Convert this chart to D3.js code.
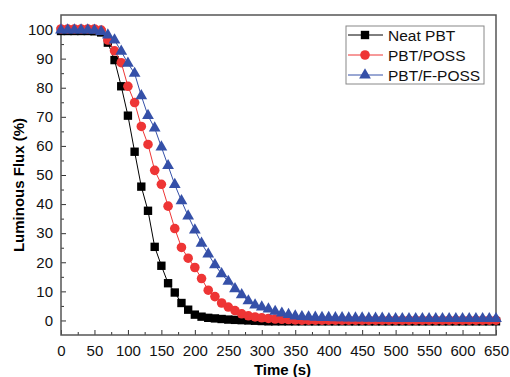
<!DOCTYPE html>
<html>
<head>
<meta charset="utf-8">
<script src="https://cdn.jsdelivr.net/npm/d3@7"></script>
<style>
  body { margin: 0; background: #fff; }
  svg { font-family: Arial, "Liberation Sans", sans-serif; }
</style>
</head>
<body>
<svg id="chart" width="510" height="377"></svg>
<script>
// time axis (s), one reading every 10 s
const times = [
  0, 10, 20, 30, 40, 50, 60, 70, 80, 90,
  100, 110, 120, 130, 140, 150, 160, 170, 180, 190,
  200, 210, 220, 230, 240, 250, 260, 270, 280, 290,
  300, 310, 320, 330, 340, 350, 360, 370, 380, 390,
  400, 410, 420, 430, 440, 450, 460, 470, 480, 490,
  500, 510, 520, 530, 540, 550, 560, 570, 580, 590,
  600, 610, 620, 630, 640, 650
];

const neatPBT = [
  99.5, 99.5, 99.5, 99.5, 99.5, 99.4, 99.0, 95.5, 89.5, 80.5,
  70.4, 58.0, 46.0, 37.7, 25.3, 18.8, 12.8, 9.6, 6.0, 3.7,
  2.0, 1.3, 0.9, 0.7, 0.5, 0.3, 0.2, 0.1, 0.0, -0.1,
  -0.2, -0.3, -0.3, -0.3, -0.3, -0.3, -0.3, -0.3, -0.3, -0.3,
  -0.3, -0.3, -0.3, -0.3, -0.3, -0.3, -0.3, -0.3, -0.3, -0.3,
  -0.3, -0.3, -0.3, -0.3, -0.3, -0.3, -0.3, -0.3, -0.3, -0.3,
  -0.3, -0.3, -0.3, -0.3, -0.3, -0.3
];

const pbtPOSS = [
  100.2, 100.2, 100.2, 100.2, 100.2, 100.2, 99.8, 96.4, 92.7, 88.6,
  80.5, 74.9, 66.7, 60.5, 51.6, 46.8, 39.3, 31.6, 25.1, 21.4,
  18.2, 14.4, 10.4, 8.2, 6.0, 4.6, 3.4, 2.3, 1.6, 1.2,
  0.9, 0.7, 0.5, 0.4, 0.3, 0.2, 0.1, 0.1, 0.1, 0.1,
  0.1, 0.1, 0.1, 0.1, 0.1, 0.1, 0.1, 0.1, 0.1, 0.1,
  0.1, 0.1, 0.1, 0.1, 0.1, 0.1, 0.1, 0.1, 0.1, 0.1,
  0.1, 0.1, 0.1, 0.1, 0.1, 0.1
];

const pbtFPOSS = [
  99.8, 99.8, 99.8, 99.8, 99.8, 99.7, 99.3, 98.1, 96.4, 92.5,
  88.4, 84.9, 77.2, 70.4, 66.1, 59.6, 53.2, 46.7, 41.1, 35.9,
  31.1, 26.5, 22.8, 19.1, 16.0, 13.4, 10.9, 8.8, 6.7, 5.3,
  4.6, 3.9, 3.1, 2.5, 2.0, 1.5, 1.3, 1.2, 1.1, 1.0,
  1.0, 0.9, 0.9, 0.8, 0.8, 0.8, 0.7, 0.7, 0.7, 0.6,
  0.6, 0.6, 0.6, 0.6, 0.6, 0.6, 0.6, 0.6, 0.6, 0.6,
  0.6, 0.6, 0.6, 0.6, 0.6, 0.6
];

const xTicks = [0, 50, 100, 150, 200, 250, 300, 350, 400, 450, 500, 550, 600, 650];
const yTicks = [0, 10, 20, 30, 40, 50, 60, 70, 80, 90, 100];

const series = [
  { name: 'Neat PBT', values: neatPBT, color: '#000000', symbol: d3.symbolSquare, size: 70 },
  { name: 'PBT/POSS', values: pbtPOSS, color: '#ee3535', symbol: d3.symbolCircle, size: 72 },
  { name: 'PBT/F-POSS', values: pbtFPOSS, color: '#3550a8', symbol: d3.symbolTriangle, size: 60 }
];

const margin = { top: 15, right: 14, bottom: 42, left: 61 };
const width = 510 - margin.left - margin.right;
const height = 377 - margin.top - margin.bottom;

const svg = d3.select('#chart');
const g = svg.append('g')
  .attr('transform', `translate(${margin.left},${margin.top})`);

const x = d3.scaleLinear().domain([0, 650]).range([0, width]);
const y = d3.scaleLinear().domain([-5, 105]).range([height, 0]);

// minor ticks (inward, no labels)
g.append('g')
  .attr('transform', `translate(0,${height})`)
  .call(d3.axisBottom(x).tickValues(d3.range(25, 650, 50)).tickSize(-3).tickFormat(''))
  .call(a => a.select('.domain').remove());
g.append('g')
  .call(d3.axisLeft(y).tickValues(d3.range(5, 100, 10)).tickSize(-3).tickFormat(''))
  .call(a => a.select('.domain').remove());

// major ticks
const xAxis = g.append('g')
  .attr('class', 'axis axis--x')
  .attr('transform', `translate(0,${height})`)
  .call(d3.axisBottom(x).tickValues(xTicks).tickSizeInner(-5).tickSizeOuter(0).tickPadding(10));
const yAxis = g.append('g')
  .attr('class', 'axis axis--y')
  .call(d3.axisLeft(y).tickValues(yTicks).tickSizeInner(-5).tickSizeOuter(0).tickPadding(8));

[xAxis, yAxis].forEach(a => {
  a.select('.domain').remove();
  a.selectAll('text').attr('font-size', 15).attr('fill', '#111').attr('font-family', 'Arial, "Liberation Sans", sans-serif');
});
g.selectAll('.tick line').attr('stroke', '#333');

// frame
g.append('rect')
  .attr('width', width)
  .attr('height', height)
  .attr('fill', 'none')
  .attr('stroke', '#555')
  .attr('stroke-width', 1.5);

// series
const line = d3.line()
  .x((d, i) => x(times[i]))
  .y(d => y(d));

series.forEach(s => {
  g.append('path')
    .datum(s.values)
    .attr('fill', 'none')
    .attr('stroke', s.color)
    .attr('stroke-width', 1)
    .attr('d', line);
  g.selectAll(null)
    .data(s.values)
    .enter().append('path')
    .attr('transform', (d, i) => `translate(${x(times[i])},${y(d)})`)
    .attr('d', d3.symbol().type(s.symbol).size(s.size))
    .attr('fill', s.color);
});

// axis titles
svg.append('text')
  .attr('x', margin.left + width / 2 + 4)
  .attr('y', 375)
  .attr('text-anchor', 'middle')
  .attr('font-size', 15)
  .attr('font-weight', 'bold')
  .text('Time (s)');

svg.append('text')
  .attr('transform', `translate(24,${185}) rotate(-90)`)
  .attr('text-anchor', 'middle')
  .attr('font-size', 15)
  .attr('font-weight', 'bold')
  .text('Luminous Flux (%)');

// legend
const legend = svg.append('g').attr('transform', 'translate(346,26)');
legend.append('rect')
  .attr('width', 138)
  .attr('height', 58)
  .attr('fill', '#fff')
  .attr('stroke', '#888')
  .attr('stroke-width', 1);

series.forEach((s, i) => {
  const row = legend.append('g').attr('transform', `translate(0,${9 + i * 20})`);
  row.append('line')
    .attr('x1', 2).attr('x2', 37)
    .attr('stroke', s.color)
    .attr('stroke-width', 1);
  row.append('path')
    .attr('transform', 'translate(19,0)')
    .attr('d', d3.symbol().type(s.symbol).size(s.size))
    .attr('fill', s.color);
  row.append('text')
    .attr('x', 42)
    .attr('dy', '0.36em')
    .attr('font-size', 15.5)
    .attr('fill', '#111')
    .text(s.name);
});
</script>
</body>
</html>
